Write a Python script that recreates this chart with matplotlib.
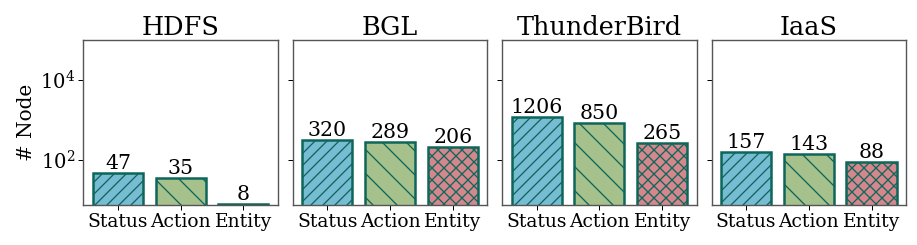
import matplotlib
matplotlib.use("Agg")
import matplotlib.pyplot as plt

datasets = ["HDFS", "BGL", "ThunderBird", "IaaS"]
categories = ["Status", "Action", "Entity"]
status_vals = [47, 320, 1206, 157]
action_vals = [35, 289, 850, 143]
entity_vals = [8, 206, 265, 88]

colors = ["#78bcd4", "#a7c18d", "#d4878c"]
hatches = ["//", "\\", "xx"]
edge = "#0d6659"

# rendered at 72 dpi so that 1 pt == 1 px
DPI = 72
plt.rcParams['font.family'] = ['DejaVu Serif']
plt.rcParams['mathtext.fontset'] = 'dejavuserif'
plt.rcParams['hatch.linewidth'] = 1.3
plt.rcParams['hatch.color'] = edge

fig, axes = plt.subplots(1, 4, figsize=(917 / DPI, 245 / DPI), dpi=DPI, sharey=True)
fig.subplots_adjust(left=0.091, right=0.988, top=0.837, bottom=0.163, wspace=0.077)

for i, ax in enumerate(axes):
    vals = [status_vals[i], action_vals[i], entity_vals[i]]
    x = range(len(categories))
    bars = ax.bar(x, vals, width=0.8, color=colors, edgecolor=edge, linewidth=2.5)
    for b, h in zip(bars, hatches):
        b.set_hatch(h)
    ax.set_yscale("log")
    ax.set_ylim(7.5, 1e5)
    ax.set_xlim(-0.55, 2.55)
    ax.set_xticks(list(x))
    ax.set_xticklabels(categories, fontsize=18.8)
    ax.set_title(datasets[i], fontsize=25.5, pad=5)
    ax.minorticks_off()
    ax.set_yticks([1e2, 1e4])
    ax.tick_params(axis='y', labelsize=19.5, length=5, width=1)
    ax.tick_params(axis='x', pad=3, length=5, width=1)
    for s in ax.spines.values():
        s.set_color("#555555")
        s.set_linewidth(1.4)
    for b, v in zip(bars, vals):
        ax.text(b.get_x() + b.get_width() / 2, v, str(v), ha='center', va='bottom', fontsize=20.5)
    if i == 0:
        ax.set_ylabel("# Node", fontsize=20, labelpad=4)

fig.savefig("out.png", dpi=DPI)
